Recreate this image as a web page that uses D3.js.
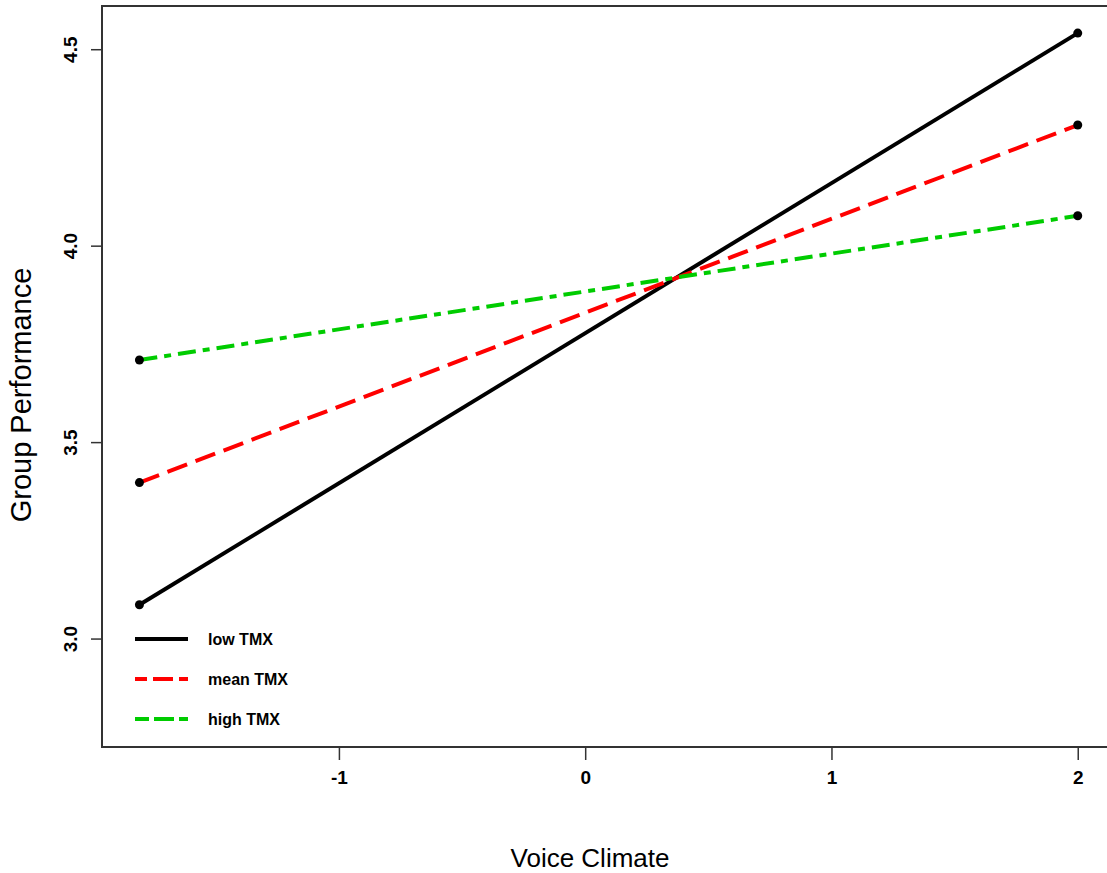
<!DOCTYPE html>
<html>
<head>
<meta charset="utf-8">
<script src="https://cdn.jsdelivr.net/npm/d3@7"></script>
<style>
  body { margin: 0; background: #fff; }
  svg { display: block; font-family: "Liberation Sans", Arial, sans-serif; }
</style>
</head>
<body>
<div id="chart"></div>
<script>
const width = 1107, height = 873
const margin = { top: 6, bottom: 126, left: 102, right: -3 }

// simple slopes: Voice Climate (low / high) vs Group Performance
const xValues = [-1.81, 2]
const lowTMX = [3.086, 4.541]
const meanTMX = [3.397, 4.307]
const highTMX = [3.709, 4.076]
const seriesNames = ["low TMX", "mean TMX", "high TMX"]
const xTicks = [-1, 0, 1, 2]
const yTicks = [3.0, 3.5, 4.0, 4.5]

const colors = ["#000000", "#ff0000", "#00cc00"]
const dashes = [null, "21,9", "18,7,7,7"]
const legendDashes = [null, "12,6,20,6,20", "14,5,20,5,20"]

const series = [lowTMX, meanTMX, highTMX].map((vals, i) => ({
  name: seriesNames[i],
  points: vals.map((v, j) => ({ x: xValues[j], y: v }))
}))

const x = d3.scaleLinear()
  .domain([-1.962, 2.131])
  .range([margin.left, width - margin.right])
const y = d3.scaleLinear()
  .domain([2.724, 4.61])
  .range([height - margin.bottom, margin.top])

const svg = d3.select("#chart").append("svg")
  .attr("width", width)
  .attr("height", height)

// x axis
const xAxis = svg.append("g")
  .attr("transform", `translate(0,${height - margin.bottom})`)
  .call(d3.axisBottom(x).tickValues(xTicks).tickSize(13).tickPadding(11)
    .tickFormat(d => d < 0 ? "-" + Math.abs(d) : d))
xAxis.select(".domain").remove()
xAxis.selectAll("line").attr("stroke", "#333").attr("stroke-width", 1.5)
xAxis.selectAll("text").attr("font-size", 19).attr("font-weight", "bold").attr("fill", "#000")

// y axis
const yAxis = svg.append("g")
  .attr("transform", `translate(${margin.left},0)`)
  .call(d3.axisLeft(y).tickValues(yTicks).tickSize(11).tickFormat(d3.format(".1f")))
yAxis.select(".domain").remove()
yAxis.selectAll("line").attr("stroke", "#333").attr("stroke-width", 1.5)
yAxis.selectAll("text")
  .attr("font-size", 19).attr("font-weight", "bold").attr("fill", "#000")
  .attr("x", null).attr("dy", null)
  .attr("text-anchor", "middle")
  .attr("transform", "translate(-25,0) rotate(-90)")

// frame
svg.append("rect")
  .attr("x", margin.left)
  .attr("y", margin.top)
  .attr("width", width - margin.right - margin.left)
  .attr("height", height - margin.bottom - margin.top)
  .attr("fill", "none")
  .attr("stroke", "#333")
  .attr("stroke-width", 2)

const line = d3.line().x(d => x(d.x)).y(d => y(d.y))

series.forEach((s, i) => {
  svg.append("path")
    .datum(s.points)
    .attr("d", line)
    .attr("fill", "none")
    .attr("stroke", colors[i])
    .attr("stroke-width", 4)
    .attr("stroke-dasharray", dashes[i])

  svg.selectAll(null)
    .data(s.points)
    .join("circle")
    .attr("cx", d => x(d.x))
    .attr("cy", d => y(d.y))
    .attr("r", 4.5)
    .attr("fill", "#000")
})

// legend
const legend = svg.append("g")
seriesNames.forEach((name, i) => {
  const ly = 639 + i * 40
  legend.append("line")
    .attr("x1", 135).attr("x2", 188)
    .attr("y1", ly).attr("y2", ly)
    .attr("stroke", colors[i])
    .attr("stroke-width", 4)
    .attr("stroke-dasharray", legendDashes[i])
  legend.append("text")
    .attr("x", 208).attr("y", ly + 6)
    .attr("font-size", 16).attr("font-weight", "bold")
    .text(name)
})

// axis titles
svg.append("text")
  .attr("x", 590).attr("y", 867)
  .attr("text-anchor", "middle")
  .attr("font-size", 26)
  .text("Voice Climate")

svg.append("text")
  .attr("transform", "translate(31,395) rotate(-90)")
  .attr("text-anchor", "middle")
  .attr("font-size", 29)
  .text("Group Performance")
</script>
</body>
</html>
